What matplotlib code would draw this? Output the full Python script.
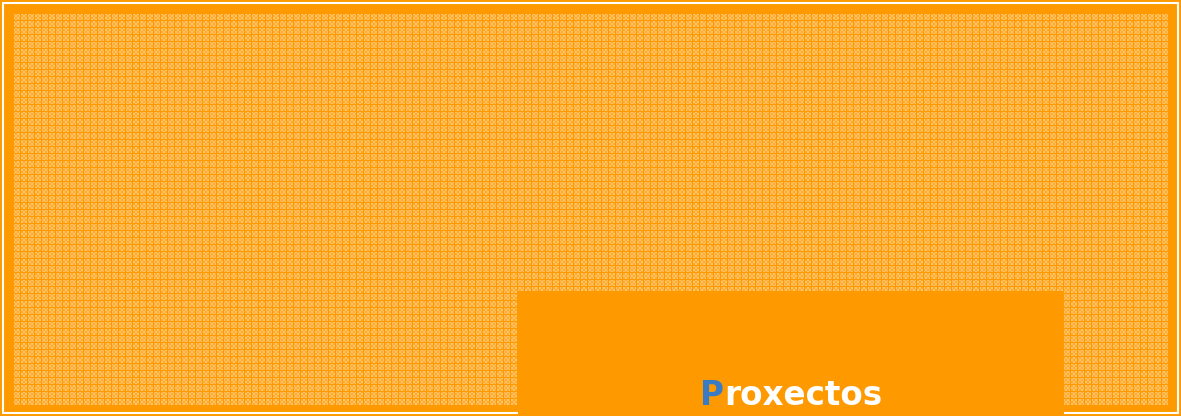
import numpy as np
import matplotlib.pyplot as plt
from matplotlib.colors import to_rgb
from matplotlib.patches import Rectangle

# banner geometry (pixels)
W, H = 1181, 416
orange = '#fe9a00'
light = '#ffc46a'
mid = '#ffaa2a'
line_col = '#ff9900'
blue = '#3a7bc6'

title_first = 'P'
title_rest = 'roxectos'

fig = plt.figure(figsize=(W / 100, H / 100), dpi=100)
ax = fig.add_axes([0, 0, 1, 1])
ax.set_xlim(0, W)
ax.set_ylim(H, 0)
ax.axis('off')
fig.patch.set_facecolor(orange)

# checked texture inside the frame
px0, px1, py0, py1 = 13, 1168, 13, 405
pw, ph = px1 - px0, py1 - py0
period = 7
yy, xx = np.mgrid[0:ph, 0:pw]
chk = ((xx // 2 + yy // 2) % 2 == 0)
tex = np.where(chk[..., None], np.array(to_rgb(light)), np.array(to_rgb(mid)))
grid = ((xx % period) == 0) | ((yy % period) == 0)
tex[grid] = np.array(to_rgb(line_col))
ax.imshow(tex, extent=[px0, px1, py1, py0], interpolation='nearest', zorder=1)

# thin white frame near the edge
ax.add_patch(Rectangle((3, 3), W - 6, H - 6, fill=False, edgecolor='white',
                       linewidth=1.5, zorder=2))

# solid orange box with the title
ax.add_patch(Rectangle((518, 291), 546, H - 291 + 2, facecolor=orange,
                       edgecolor='none', zorder=3))

fs = 23.5
tp = ax.text(700, 405, title_first, color=blue, fontsize=fs, fontweight='bold',
             family='DejaVu Sans', va='baseline', ha='left', zorder=5)
fig.canvas.draw()
bb = tp.get_window_extent(fig.canvas.get_renderer())
x_next = ax.transData.inverted().transform((bb.x1, bb.y0))[0]
ax.text(x_next, 405, title_rest, color='white', fontsize=fs, fontweight='bold',
        family='DejaVu Sans', va='baseline', ha='left', zorder=4)

fig.savefig('out.png', dpi=100, facecolor=orange)
